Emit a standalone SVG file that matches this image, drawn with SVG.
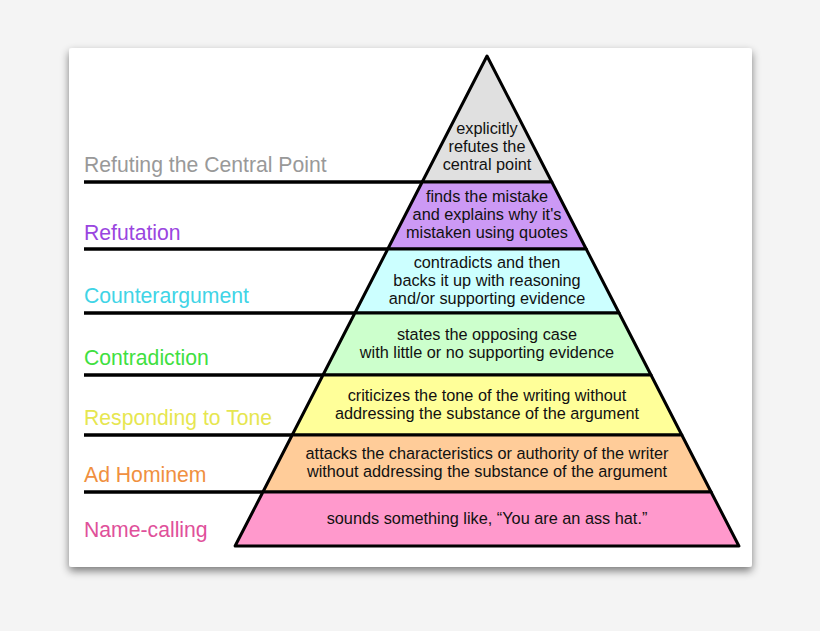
<svg xmlns="http://www.w3.org/2000/svg" width="820" height="631" viewBox="0 0 820 631">
<defs>
<filter id="sh" x="-10%" y="-10%" width="120%" height="125%"><feGaussianBlur in="SourceAlpha" stdDeviation="4"/><feOffset dy="4"/><feComponentTransfer><feFuncA type="linear" slope="0.5"/></feComponentTransfer><feMerge><feMergeNode/><feMergeNode in="SourceGraphic"/></feMerge></filter>
</defs>
<style>
.b{stroke:#000;stroke-width:3;stroke-linejoin:round}
.l{stroke:#000;stroke-width:3.5}
.lab{font-family:"Liberation Sans",Arial,sans-serif;font-size:21.2px}
.t{font-family:"Liberation Sans",Arial,sans-serif;font-size:16.3px;fill:#111;text-anchor:middle}
</style>
<rect width="820" height="631" fill="#f4f4f4"/>
<rect x="69" y="48" width="683" height="519" rx="3" fill="#fff" filter="url(#sh)"/>
<g id="connectors">
<line class="l" x1="84" y1="182" x2="422" y2="182"/>
<line class="l" x1="84" y1="249" x2="388" y2="249"/>
<line class="l" x1="84" y1="313" x2="355" y2="313"/>
<line class="l" x1="84" y1="375" x2="323" y2="375"/>
<line class="l" x1="84" y1="435" x2="292" y2="435"/>
<line class="l" x1="84" y1="492" x2="263" y2="492"/>
</g>
<g id="n1"><polygon class="b" fill="#e0e0e0" points="487,56 551.8,182 422.2,182"/>
<text class="lab" x="84" y="172" fill="#999">Refuting the Central Point</text>
<text class="t" x="487" y="134">explicitly</text><text class="t" x="487" y="152">refutes the</text><text class="t" x="487" y="170">central point</text></g>
<g id="n2"><polygon class="b" fill="#cc99f5" points="422.2,182 551.8,182 586.2,249 387.8,249"/>
<text class="lab" x="84" y="240" fill="#9a45e0">Refutation</text>
<text class="t" x="487" y="202">finds the mistake</text><text class="t" x="487" y="220">and explains why it's</text><text class="t" x="487" y="238">mistaken using quotes</text></g>
<g id="n3"><polygon class="b" fill="#ccffff" points="387.8,249 586.2,249 619.1,313 354.9,313"/>
<text class="lab" x="84" y="303" fill="#40d4e6">Counterargument</text>
<text class="t" x="487" y="268">contradicts and then</text><text class="t" x="487" y="286">backs it up with reasoning</text><text class="t" x="487" y="304">and/or supporting evidence</text></g>
<g id="n4"><polygon class="b" fill="#ccffcc" points="354.9,313 619.1,313 651,375 323,375"/>
<text class="lab" x="84" y="365" fill="#40e040">Contradiction</text>
<text class="t" x="487" y="340">states the opposing case</text><text class="t" x="487" y="358">with little or no supporting evidence</text></g>
<g id="n5"><polygon class="b" fill="#ffff99" points="323,375 651,375 681.8,435 292.2,435"/>
<text class="lab" x="84" y="425" fill="#e6e650">Responding to Tone</text>
<text class="t" x="487" y="401">criticizes the tone of the writing without</text><text class="t" x="487" y="419">addressing the substance of the argument</text></g>
<g id="n6"><polygon class="b" fill="#ffcc99" points="292.2,435 681.8,435 711.1,492 262.9,492"/>
<text class="lab" x="84" y="482" fill="#f09040">Ad Hominem</text>
<text class="t" x="487" y="459">attacks the characteristics or authority of the writer</text><text class="t" x="487" y="477">without addressing the substance of the argument</text></g>
<g id="n7"><polygon class="b" fill="#ff99cc" points="262.9,492 711.1,492 738.9,546 235.1,546"/>
<text class="lab" x="84" y="537" fill="#e0509a">Name-calling</text>
<text class="t" x="487" y="524">sounds something like, “You are an ass hat.”</text></g>
</svg>
